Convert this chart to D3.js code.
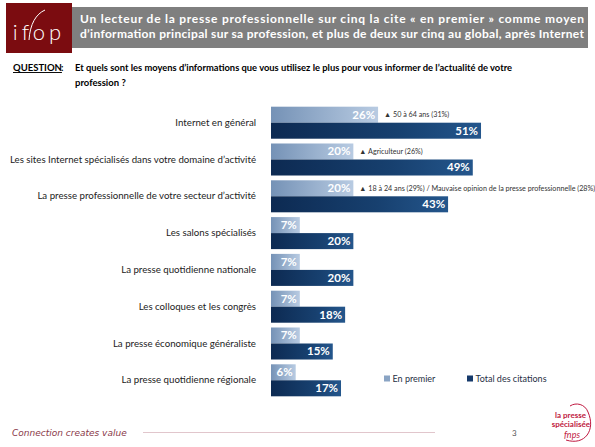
<!DOCTYPE html>
<html><head><meta charset="utf-8">
<script src="https://cdn.jsdelivr.net/npm/d3@7"></script>
<style>body{margin:0;background:#fff}svg{display:block}text{font-family:Lato,"Open Sans",sans-serif}</style>
</head><body>
<script>
const categories = [
  "Internet en général",
  "Les sites Internet spécialisés dans votre domaine d’activité",
  "La presse professionnelle de votre secteur d’activité",
  "Les salons spécialisés",
  "La presse quotidienne nationale",
  "Les colloques et les congrès",
  "La presse économique généraliste",
  "La presse quotidienne régionale"
];
const enPremier = [26, 20, 20, 7, 7, 7, 7, 6];
const totalCitations = [51, 49, 43, 20, 20, 18, 15, 17];
const annotations = ["▲ 50 à 64 ans (31%)", "▲ Agriculteur (26%)", "▲ 18 à 24 ans (29%) / Mauvaise opinion de la presse professionnelle (28%)", "", "", "", "", ""];
const seriesNames = ["En premier", "Total des citations"];

const W = 595, H = 447;
const svg = d3.select("body").append("svg").attr("width", W).attr("height", H);
const defs = svg.append("defs");
const gl = defs.append("linearGradient").attr("id", "gLight").attr("x1", 0).attr("x2", 1).attr("y1", 0).attr("y2", 0);
gl.append("stop").attr("offset", "0%").attr("stop-color", "#7592b6");
gl.append("stop").attr("offset", "100%").attr("stop-color", "#b8cbe2");
const gd = defs.append("linearGradient").attr("id", "gDark").attr("x1", 0).attr("x2", 1).attr("y1", 0).attr("y2", 0);
gd.append("stop").attr("offset", "0%").attr("stop-color", "#0d2a52");
gd.append("stop").attr("offset", "60%").attr("stop-color", "#17406f");
gd.append("stop").attr("offset", "100%").attr("stop-color", "#24568c");

// Header
svg.append("rect").attr("x", 72).attr("y", 7).attr("width", 516).attr("height", 41).attr("fill", "#7f7f7f");
svg.append("rect").attr("x", 6).attr("y", 3).attr("width", 66).attr("height", 50).attr("fill", "#7b0c10");
svg.append("text").attr("x", 39).attr("y", 40).attr("text-anchor", "middle").attr("fill", "#fff")
  .attr("font-size", 22).attr("font-weight", 300).attr("letter-spacing", 4).text("ifop");
svg.append("path").attr("d", "M29,40 C30,24 36,14 45,10").attr("fill", "none").attr("stroke", "#fff").attr("stroke-width", 1);
const titleLines = [
  "Un lecteur de la presse professionnelle sur cinq la cite « en premier » comme moyen",
  "d’information principal sur sa profession, et plus de deux sur cinq au global, après Internet"
];
titleLines.forEach((t, i) => {
  svg.append("text").attr("x", 80).attr("y", 23 + i * 15).attr("fill", "#fff").attr("font-weight", 700)
    .attr("font-size", 12).attr("textLength", 504).attr("lengthAdjust", "spacing").text(t);
});

// Question
svg.append("text").attr("x", 13).attr("y", 71).attr("font-size", 9.5).attr("font-weight", 700).attr("fill", "#000")
  .attr("text-decoration", "underline").text("QUESTION");
svg.append("text").attr("x", 61).attr("y", 71).attr("font-size", 9.5).attr("font-weight", 700).text(":");
svg.append("text").attr("x", 75).attr("y", 71).attr("font-size", 9.5).attr("font-weight", 700)
  .attr("textLength", 437).attr("lengthAdjust", "spacingAndGlyphs")
  .text("Et quels sont les moyens d’informations que vous utilisez le plus pour vous informer de l’actualité de votre");
svg.append("text").attr("x", 75).attr("y", 86).attr("font-size", 9.5).attr("font-weight", 700).text("profession ?");

// Scales
const y = d3.scaleBand().domain(categories).range([104.3, 398.7]).paddingInner(0.13).paddingOuter(0.065);
const x = d3.scaleLinear().domain([0, 100]).range([271, 682.8]);
const sub = d3.scaleBand().domain(seriesNames).range([0, y.bandwidth()]);

const yAxis = d3.axisLeft(y).tickSize(0).tickPadding(0);
const ga = svg.append("g").attr("transform", "translate(256,0)").call(yAxis);
ga.select(".domain").remove();
ga.selectAll("text").attr("font-size", 9.7).attr("fill", "#222").style("font-family", "Lato, sans-serif");

const rows = svg.append("g").selectAll("g").data(categories).join("g")
  .attr("transform", d => `translate(0,${y(d)})`);

rows.append("rect").attr("x", x(0)).attr("y", sub(seriesNames[0]))
  .attr("width", (d, i) => x(enPremier[i]) - x(0)).attr("height", sub.bandwidth()).attr("fill", "url(#gLight)");
rows.append("rect").attr("x", x(0)).attr("y", sub(seriesNames[1]))
  .attr("width", (d, i) => x(totalCitations[i]) - x(0)).attr("height", sub.bandwidth()).attr("fill", "url(#gDark)");

rows.append("text").attr("x", (d, i) => x(enPremier[i]) - 3).attr("y", sub(seriesNames[0]) + sub.bandwidth() / 2 + 4)
  .attr("text-anchor", "end").attr("fill", "#fff").attr("font-weight", 700).attr("font-size", 11.5)
  .text((d, i) => enPremier[i] + "%");
rows.append("text").attr("x", (d, i) => x(totalCitations[i]) - 3).attr("y", sub(seriesNames[1]) + sub.bandwidth() / 2 + 4)
  .attr("text-anchor", "end").attr("fill", "#fff").attr("font-weight", 700).attr("font-size", 11.5)
  .text((d, i) => totalCitations[i] + "%");
rows.append("text").attr("x", (d, i) => x(enPremier[i]) + 6).attr("y", sub(seriesNames[0]) + sub.bandwidth() / 2 + 2.5)
  .attr("fill", "#333").attr("font-size", 7.2)
  .text((d, i) => annotations[i]);

// Legend
const legX = [384, 467];
const legFill = ["#8aa4c4", "#15396a"];
seriesNames.forEach((s, i) => {
  svg.append("rect").attr("x", legX[i]).attr("y", 375.5).attr("width", 6).attr("height", 6).attr("fill", legFill[i]);
  svg.append("text").attr("x", legX[i] + 8.5).attr("y", 382).attr("font-size", 9).attr("fill", "#1f2f45").text(s);
});

// Footer
svg.append("text").attr("x", 12).attr("y", 436).attr("font-size", 9).attr("font-style", "italic")
  .attr("fill", "#8a3a4a").style("font-family", "'DejaVu Sans', sans-serif").attr("font-weight", 300).text("Connection creates value");
svg.append("line").attr("x1", 143).attr("x2", 435).attr("y1", 432.5).attr("y2", 432.5).attr("stroke", "#d9b7bf").attr("stroke-width", 0.8);
svg.append("text").attr("x", 512).attr("y", 436).attr("font-size", 8).attr("fill", "#555").text("3");
svg.append("text").attr("x", 586).attr("y", 418).attr("text-anchor", "end").attr("font-size", 8).attr("font-weight", 700).attr("fill", "#c01840").text("la presse");
svg.append("text").attr("x", 590).attr("y", 427).attr("text-anchor", "end").attr("font-size", 8).attr("font-weight", 700).attr("fill", "#c01840").text("spécialisée");
svg.append("text").attr("x", 580).attr("y", 438).attr("text-anchor", "end").attr("font-size", 9).attr("font-style", "italic").attr("fill", "#c01840").text("fnps");
svg.append("path").attr("d", "M566,440 C585,446 596,430 588,412 C585,404 576,402 570,406").attr("fill", "none").attr("stroke", "#c01840").attr("stroke-width", 1);
</script>
</body></html>
